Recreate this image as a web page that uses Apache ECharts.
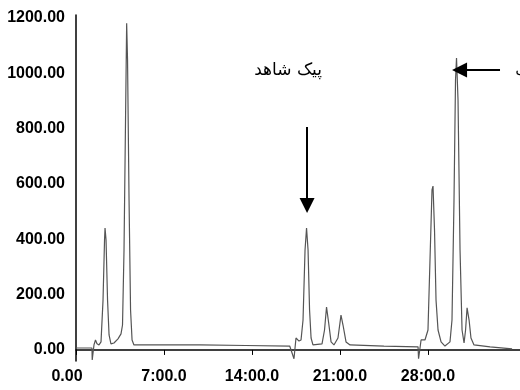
<!DOCTYPE html>
<html>
<head>
<meta charset="utf-8">
<script src="https://cdn.jsdelivr.net/npm/echarts@6/dist/echarts.min.js"></script>
<style>
html,body{margin:0;padding:0;background:#fff;}
#c{width:520px;height:390px;}
</style>
</head>
<body>
<div id="c"></div>
<script>
// retention time (min)
const times = [0, 1.27, 1.29, 1.39, 1.43, 1.55, 1.67, 1.83, 1.99, 2.15, 2.27, 2.31, 2.39, 2.51, 2.63, 2.78, 3.02, 3.34, 3.58, 3.70, 3.82, 3.94, 4.03, 4.10, 4.22, 4.34, 4.46, 4.61, 9.86, 13.5, 17.0,
  17.34, 17.46, 17.50, 17.62, 17.74, 17.90, 18.06, 18.22, 18.34, 18.46, 18.58, 18.70, 18.85, 19.57, 19.77, 19.93, 20.09, 20.29, 20.52, 20.84, 21.08, 21.24, 21.48, 21.80, 24.5, 27.21,
  27.25, 27.37, 27.45, 27.60, 27.76, 28.0, 28.16, 28.32, 28.40, 28.52, 28.64, 28.80, 29.04, 29.35, 29.75, 29.91, 30.07, 30.19, 30.27, 30.39, 30.55, 30.71, 30.87, 30.99, 31.11, 31.27, 31.42, 31.66, 32.94, 34.69];
// detector signal
const signal = [7, 7, -36, -36, 18, 36, 22, 18, 29, 180, 397, 440, 397, 180, 54, 22, 25, 40, 58, 90, 361, 830, 1180, 1047, 542, 144, 36, 18, 18, 16, 14,
  -32, -32, 43, 47, 32, 36, 108, 361, 440, 361, 144, 43, 18, 22, 72, 155, 101, 29, 18, 43, 126, 90, 29, 18, 14, 11,
  -32, -32, 36, 43, 36, 72, 325, 578, 592, 433, 180, 72, 29, 14, 29, 108, 542, 975, 1055, 903, 361, 72, 25, 72, 152, 108, 43, 18, 11, 4];

const yTickLabels = [0, 200, 400, 600, 800, 1000, 1200];
const xTickValues = [0, 7, 14, 21, 28];
const xTickLabels = ['0.00', '7:00.0', '14:00.0', '21:00.0', '28:00.0'];

// annotations
const standardLabel = 'پیک شاهد';
const standardArrow = {time: 18.38, from: 805, to: 522};
const sampleArrow = {value: 1011, from: 33.73, to: 30.51};
const labelPos = [16.87, 1008];
const edgeLabelPos = [34.95, 1013];

const data = times.map((t, i) => [t, signal[i]]);
const chart = echarts.init(document.getElementById('c'), null, {renderer: 'canvas'});
chart.setOption({
  animation: false,
  backgroundColor: '#fff',
  grid: {left: 76, right: 0, top: 15, bottom: 29, containLabel: false},
  xAxis: {
    type: 'value', min: 0, max: 35.32, interval: 7,
    splitLine: {show: false},
    axisLine: {lineStyle: {color: '#000', width: 1.5}},
    axisTick: {show: true, length: 5, lineStyle: {color: '#000'}, customValues: xTickValues},
    axisLabel: {
      customValues: xTickValues,
      margin: 8, color: '#000', fontWeight: 'bold', fontSize: 16, fontFamily: 'Liberation Sans',
      formatter: v => { const i = xTickValues.indexOf(v); if (i < 0) return ''; return i === 0 ? '{f|' + xTickLabels[i] + '}' : xTickLabels[i]; },
      rich: {f: {padding: [0, 18, 0, 0], color: '#000', fontWeight: 'bold', fontSize: 16, fontFamily: 'Liberation Sans'}}
    }
  },
  yAxis: {
    type: 'value', min: -40, max: 1210, interval: 40,
    splitLine: {show: false},
    axisLine: {show: true, lineStyle: {color: '#000', width: 1.5}},
    axisTick: {show: false},
    axisLabel: {
      margin: 11, color: '#000', fontWeight: 'bold', fontSize: 16, fontFamily: 'Liberation Sans',
      formatter: v => yTickLabels.indexOf(v) >= 0 ? v.toFixed(2) : ''
    }
  },
  series: [{
    type: 'line', data: data, showSymbol: false, symbol: 'none',
    lineStyle: {color: '#555', width: 1.2}, silent: true,
    markLine: {
      silent: true, symbol: ['none', 'triangle'], symbolSize: 15,
      label: {show: false},
      lineStyle: {color: '#000', width: 2, type: 'solid'},
      itemStyle: {color: '#000'},
      data: [
        [{coord: [standardArrow.time, standardArrow.from]}, {coord: [standardArrow.time, standardArrow.to]}],
        [{coord: [sampleArrow.from, sampleArrow.value]}, {coord: [sampleArrow.to, sampleArrow.value]}]
      ]
    },
    markPoint: {
      silent: true, symbol: 'circle', symbolSize: 0,
      data: [
        {coord: labelPos, name: standardLabel, label: {show: true, position: 'inside', formatter: '{b}', color: '#000', fontSize: 17, fontFamily: 'DejaVu Sans'}},
        {coord: edgeLabelPos, name: 'ل\u200D', label: {show: true, position: 'inside', align: 'left', formatter: '{b}', color: '#000', fontSize: 15, fontFamily: 'DejaVu Sans'}}
      ]
    }
  }]
});
</script>
</body>
</html>
